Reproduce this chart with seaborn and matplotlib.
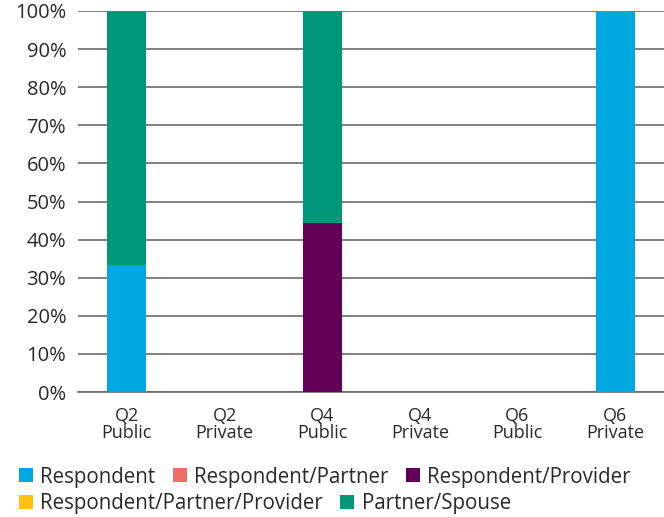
import matplotlib
matplotlib.use("Agg")
import matplotlib.pyplot as plt
import seaborn as sns
import numpy as np
import pandas as pd
from matplotlib.patches import Patch

categories = ["Q2\nPublic", "Q2\nPrivate", "Q4\nPublic", "Q4\nPrivate", "Q6\nPublic", "Q6\nPrivate"]
series_names = ["Respondent", "Respondent/Partner", "Respondent/Provider",
                "Respondent/Partner/Provider", "Partner/Spouse"]
respondent = [33.3, 0, 0, 0, 0, 100]
respondent_partner = [0, 0, 0, 0, 0, 0]
respondent_provider = [0, 0, 44.4, 0, 0, 0]
respondent_partner_provider = [0, 0, 0, 0, 0, 0]
partner_spouse = [66.7, 0, 55.6, 0, 0, 0]
colors = ["#00A8E1", "#EC6F66", "#620057", "#FFC20E", "#009878"]
yticks = [0, 10, 20, 30, 40, 50, 60, 70, 80, 90, 100]

sns.set_theme(style="white")
plt.rcParams["font.family"] = ["Open Sans", "DejaVu Sans"]

values = [respondent, respondent_partner, respondent_provider,
          respondent_partner_provider, partner_spouse]
cum = np.cumsum(np.array(values, dtype=float), axis=0)

fig = plt.figure(figsize=(6.64, 5.17), dpi=100)
ax = fig.add_axes([78 / 664, 1 - 392 / 517, (664 - 78) / 664, 381 / 517])

for i in range(len(series_names) - 1, -1, -1):
    df = pd.DataFrame({"cat": categories, "val": cum[i]})
    sns.barplot(data=df, x="cat", y="val", color=colors[i], width=0.4,
                saturation=1, ax=ax, zorder=3, linewidth=0)

ax.set_ylim(0, 100)
ax.set_xlim(-0.5, len(categories) - 0.5)
ax.set_yticks(yticks)
ax.set_yticklabels([f"{t}%" for t in yticks])
ax.yaxis.grid(True, color="#6b6b6b", linewidth=1.2, zorder=0)
ax.set_axisbelow(True)
for s in ["top", "right", "left"]:
    ax.spines[s].set_visible(False)
ax.spines["bottom"].set_color("#6b6b6b")
ax.spines["bottom"].set_linewidth(1.2)
ax.set_xlabel("")
ax.set_ylabel("")
ax.tick_params(axis="both", length=0, colors="#2a2a2a")
ax.tick_params(axis="x", pad=11, labelsize=13)
ax.tick_params(axis="y", pad=8.5, labelsize=14.5)
for lab in ax.get_xticklabels():
    lab.set_linespacing(0.92)

handles = [Patch(facecolor=c, edgecolor="none") for c in colors]
leg_kw = dict(frameon=False, fontsize=14.8, handlelength=0.68, handleheight=0.68,
              handletextpad=0.35, columnspacing=0.85, borderaxespad=0, borderpad=0,
              labelcolor="#2a2a2a")
leg1 = fig.legend(handles[:3], series_names[:3], ncol=3, loc="center left",
                  bbox_to_anchor=(19 / 664, 1 - 477 / 517), **leg_kw)
leg2 = fig.legend(handles[3:], series_names[3:], ncol=2, loc="center left",
                  bbox_to_anchor=(19 / 664, 1 - 504 / 517), **leg_kw)

fig.savefig("out.png", dpi=100)
